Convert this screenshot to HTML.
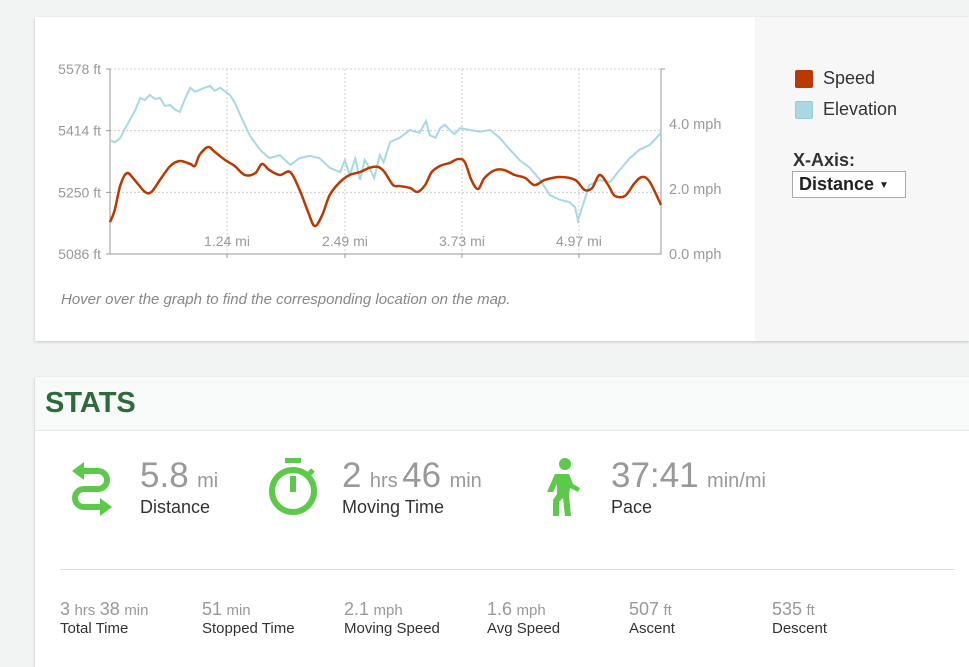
<!DOCTYPE html>
<html><head><meta charset="utf-8">
<style>
body{margin:0;width:969px;height:657px;overflow:hidden;background:#f2f3f3;font-family:"Liberation Sans",sans-serif;position:relative}
.abs{position:absolute}
#topcard{left:35px;top:17px;width:934px;height:324px;background:#fff;box-shadow:0 1px 3px rgba(0,0,0,.2)}
#side{left:720px;top:0;width:214px;height:324px;background:#f7f7f7}
#stats{left:35px;top:377px;width:934px;height:290px;background:#fff;box-shadow:0 1px 3px rgba(0,0,0,.2)}
#stathead{left:0;top:0;width:934px;height:53px;background:#f8f9f9;border-bottom:1px solid #e6e6e6}
.big{font-size:35px;color:#999}
.unit{font-size:20px;color:#999;margin-left:4px}
.lbl{font-size:18px;color:#333}
.sv{font-size:18px;color:#999}
.su{font-size:15px;color:#999}
.sl{font-size:15px;color:#333}
</style></head><body>
<div id="topcard" class="abs">
 <div id="side" class="abs">
  <div class="abs" style="left:40px;top:53px;width:18px;height:18px;background:#b83a00;border-radius:2px"></div>
  <div class="abs" style="left:68px;top:51px;font-size:18px;color:#333">Speed</div>
  <div class="abs" style="left:40px;top:84px;width:18px;height:18px;background:#a8d8e3;border:1px solid #9cc;box-sizing:border-box;border-radius:2px"></div>
  <div class="abs" style="left:68px;top:82px;font-size:18px;color:#333">Elevation</div>
  <div class="abs" style="left:38px;top:133px;font-size:18px;font-weight:bold;color:#333">X-Axis:</div>
  <div class="abs" style="left:37px;top:154px;width:106px;height:25px;border:1px solid #aaa;background:#fff;font-size:18px;font-weight:bold;color:#222;line-height:25px;padding-left:6px;box-sizing:content-box">Distance <span style="font-size:10px;vertical-align:2px">▼</span></div>
 </div>
 <div class="abs" style="left:26px;top:274px;font-size:15px;font-style:italic;color:#888">Hover over the graph to find the corresponding location on the map.</div>
</div>
<svg class="abs" style="left:0;top:0" width="969" height="345" id="chart"></svg>

<div id="stats" class="abs">
 <div id="stathead" class="abs">
  <div class="abs" style="left:10px;top:10px;font-size:29px;font-weight:bold;color:#2e6b3c">STATS</div>
 </div>
 <svg class="abs" style="left:35px;top:83px" width="42" height="56" viewBox="0 0 42 56">
  <path d="M10 11 H28 a9 9 0 0 1 0 18 H14 a9 9 0 0 0 0 18 H32" fill="none" stroke="#5cc94a" stroke-width="6"/>
  <path d="M14 2 L2 11 L14 20 Z" fill="#5cc94a"/><path d="M30 38 L42 47 L30 56 Z" fill="#5cc94a"/>
 </svg>
 <div class="abs" style="left:105px;top:79px"><span class="big">5.8</span> <span class="unit">mi</span></div>
 <div class="abs lbl" style="left:105px;top:120px">Distance</div>
 <svg class="abs" style="left:232px;top:81px" width="52" height="58" viewBox="0 0 52 58">
  <rect x="18" y="0" width="16" height="5" fill="#5cc94a"/>
  <circle cx="26" cy="33" r="21" fill="none" stroke="#5cc94a" stroke-width="6"/>
  <rect x="23" y="18" width="6" height="16" fill="#5cc94a"/>
  <line x1="41" y1="17" x2="46" y2="12" stroke="#5cc94a" stroke-width="5"/>
 </svg>
 <div class="abs" style="left:307px;top:79px"><span class="big">2</span> <span class="unit">hrs</span> <span class="big">46</span> <span class="unit">min</span></div>
 <div class="abs lbl" style="left:307px;top:120px">Moving Time</div>
 <svg class="abs" style="left:510px;top:81px" width="36" height="58" viewBox="0 0 36 58">
  <circle cx="20" cy="6" r="6" fill="#5cc94a"/>
  <path d="M10 16 H24 L28 26 L35 30 L33 34 L25 30 L24 38 L26 58 H20 L18 40 L14 44 L14 58 H8 L8 42 L12 36 L12 26 L8 34 H2 Z" fill="#5cc94a"/>
 </svg>
 <div class="abs" style="left:576px;top:79px"><span class="big">37:41</span> <span class="unit">min/mi</span></div>
 <div class="abs lbl" style="left:576px;top:120px">Pace</div>
 <div class="abs" style="left:25px;top:192px;width:895px;height:1px;background:#ddd"></div>
 <div class="abs" style="left:25px;top:222px"><span class="sv">3</span> <span class="su">hrs</span> <span class="sv">38</span> <span class="su">min</span><div class="sl">Total Time</div></div>
 <div class="abs" style="left:167px;top:222px"><span class="sv">51</span> <span class="su">min</span><div class="sl">Stopped Time</div></div>
 <div class="abs" style="left:309px;top:222px"><span class="sv">2.1</span> <span class="su">mph</span><div class="sl">Moving Speed</div></div>
 <div class="abs" style="left:452px;top:222px"><span class="sv">1.6</span> <span class="su">mph</span><div class="sl">Avg Speed</div></div>
 <div class="abs" style="left:594px;top:222px"><span class="sv">507</span> <span class="su">ft</span><div class="sl">Ascent</div></div>
 <div class="abs" style="left:737px;top:222px"><span class="sv">535</span> <span class="su">ft</span><div class="sl">Descent</div></div>
</div>

<script>
const elevDist=[0,.05,.11,.16,.21,.27,.32,.37,.42,.48,.53,.58,.64,.69,.74,.79,.85,.90,.95,1.00,1.06,1.11,1.17,1.22,1.27,1.32,1.38,1.48,1.59,1.69,1.80,1.91,2.01,2.12,2.22,2.33,2.44,2.49,2.54,2.60,2.65,2.70,2.75,2.80,2.86,2.90,2.97,3.07,3.18,3.28,3.35,3.39,3.45,3.50,3.55,3.60,3.65,3.71,3.81,3.92,4.03,4.13,4.24,4.34,4.45,4.56,4.66,4.77,4.87,4.93,4.96,5.03,5.08,5.19,5.30,5.40,5.51,5.61,5.72,5.84];
const elevFt=[5389,5383,5395,5420,5442,5470,5501,5495,5509,5498,5501,5480,5482,5470,5464,5496,5528,5518,5522,5528,5533,5520,5528,5518,5509,5490,5456,5402,5363,5341,5349,5323,5341,5347,5341,5315,5304,5336,5296,5340,5283,5336,5315,5288,5349,5330,5384,5395,5416,5408,5440,5402,5395,5421,5430,5416,5405,5421,5416,5411,5416,5395,5363,5336,5315,5283,5243,5230,5224,5210,5175,5230,5269,5283,5277,5309,5341,5363,5376,5408];
const speedDist=[0,.05,.11,.18,.26,.37,.44,.53,.64,.74,.85,.90,.95,1.04,1.11,1.22,1.32,1.43,1.54,1.61,1.69,1.80,1.91,2.01,2.10,2.17,2.25,2.33,2.44,2.54,2.65,2.75,2.84,2.91,3.00,3.07,3.18,3.26,3.34,3.41,3.50,3.60,3.69,3.76,3.83,3.90,3.97,4.08,4.18,4.29,4.40,4.50,4.61,4.77,4.93,5.03,5.11,5.19,5.28,5.35,5.46,5.56,5.64,5.72,5.84];
const speedMph=[.98,1.35,2.12,2.49,2.28,1.91,1.91,2.28,2.71,2.86,2.77,2.71,3.05,3.29,3.14,2.89,2.71,2.43,2.49,2.77,2.58,2.43,2.52,1.97,1.29,.86,1.2,1.82,2.22,2.43,2.52,2.65,2.68,2.52,2.12,2.09,2.03,1.91,2.12,2.52,2.71,2.80,2.92,2.83,2.28,2.0,2.34,2.58,2.58,2.43,2.34,2.12,2.28,2.37,2.28,1.97,2.03,2.43,2.12,1.79,1.79,2.18,2.37,2.22,1.51];
const xTicks=[1.24,2.49,3.73,4.97];
const elevTicks=[5086,5250,5414,5578];
const speedTicks=[0,2,4];

const L=110,R=661,T=69,B=254;
const xS=d=>L+d/5.84*(R-L);
const yE=f=>B-(f-5086)/(5578-5086)*(B-T);
const yS=s=>B-s/5.69*(B-T);
const svg=document.getElementById('chart');
const NS='http://www.w3.org/2000/svg';
function mk(t,a){const e=document.createElementNS(NS,t);for(const k in a)e.setAttribute(k,a[k]);svg.appendChild(e);return e;}
elevTicks.forEach(v=>{
 const g=mk('line',{x1:L,x2:R,y1:yE(v),y2:yE(v),stroke:'#ccc','stroke-dasharray':'2,2'});
 
 
 const t=mk('text',{x:101,y:yE(v)+5,'text-anchor':'end','font-size':14,fill:'#999','font-family':'Liberation Sans'});
 t.textContent=v+' ft';
 
 
 const k=mk('line',{x1:L-4,x2:L,y1:yE(v),y2:yE(v),stroke:'#999'});
 
 
});
xTicks.forEach(v=>{
 const g=mk('line',{x1:xS(v),x2:xS(v),y1:T,y2:B,stroke:'#ccc','stroke-dasharray':'2,2'});
 
 
 const t=mk('text',{x:xS(v),y:246,'text-anchor':'middle','font-size':14,fill:'#999','font-family':'Liberation Sans'});
 t.textContent=v.toFixed(2)+' mi';
 
 
 const k=mk('line',{x1:xS(v),x2:xS(v),y1:B,y2:B+4,stroke:'#999'});
 
 
});
speedTicks.forEach(v=>{
 const t=mk('text',{x:669,y:yS(v)+5,'font-size':14.5,fill:'#999','font-family':'Liberation Sans'});
 t.textContent=v.toFixed(1)+' mph';
 
 
});
let a=mk('path',{d:`M${L-4} ${T}H${L}V${B}H${R}V${T}H${R+4}`,fill:'none',stroke:'#999'});


const ep=mk('polyline',{points:elevDist.map((d,i)=>xS(d)+','+yE(elevFt[i])).join(' '),fill:'none',stroke:'#a6d9e4','stroke-width':2});


const P=speedDist.map((d,i)=>[xS(d),yS(speedMph[i])]);
let d='M'+P[0][0]+' '+P[0][1];
for(let i=0;i<P.length-1;i++){
 const p0=P[Math.max(0,i-1)],p1=P[i],p2=P[i+1],p3=P[Math.min(P.length-1,i+2)];
 d+=` C${p1[0]+(p2[0]-p0[0])/6} ${p1[1]+(p2[1]-p0[1])/6} ${p2[0]-(p3[0]-p1[0])/6} ${p2[1]-(p3[1]-p1[1])/6} ${p2[0]} ${p2[1]}`;
}
const sp=mk('path',{d:d,fill:'none',stroke:'#b83a00','stroke-width':2.5});


</script>
</body></html>
